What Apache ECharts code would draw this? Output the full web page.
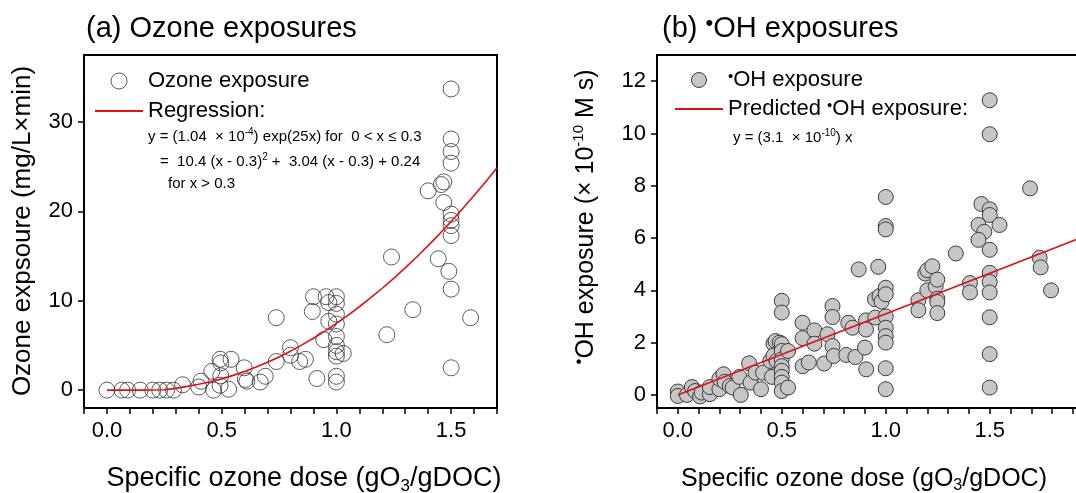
<!DOCTYPE html>
<html><head><meta charset="utf-8">
<script src="https://cdn.jsdelivr.net/npm/echarts@6/dist/echarts.min.js"></script>
<style>html,body{margin:0;padding:0;background:#fff}#c{width:1076px;height:493px}</style>
</head><body><div id="c"></div>
<script>
// ---- Panel (a): ozone exposure ----
const ozoneDose = [0.00,0.065,0.09,0.145,0.20,0.23,0.26,0.29,0.33,0.40,0.41,0.457,0.465,0.493,0.496,0.496,0.493,0.53,0.541,0.598,0.603,0.61,0.668,0.69,0.738,0.738,0.80,0.80,0.84,0.865,0.90,0.895,0.915,0.945,0.955,0.967,0.967,1.0,1.0,1.0,1.0,1.0,1.0,1.0,1.0,1.03,1.0,1.0,1.22,1.24,1.333,1.444,1.49,1.5,1.5,1.585,1.5,1.5,1.5,1.5,1.468,1.457,1.40,1.468,1.5,1.5,1.5,1.5];
const ozoneExposure = [0,0,0,0,0,0,0,0,0.6,0.35,1.0,2.1,0,3.45,3.05,1.6,0.55,0.1,3.45,2.5,1.2,1.0,0.9,1.55,8.1,3.2,4.75,3.9,3.2,3.45,10.45,8.8,1.3,5.65,10.45,9.8,7.7,10.45,9.7,8.5,7.4,6.0,5.0,4.3,3.8,4.1,1.55,0.9,6.2,14.9,9.0,14.7,13.3,11.3,2.5,8.1,33.7,28.1,26.7,25.4,23.3,23.0,22.3,21.0,19.7,19.0,18.4,17.3];
const regressionDose = [0,0.05,0.1,0.15,0.2,0.25,0.3,0.35,0.4,0.45,0.5,0.55,0.6,0.65,0.7,0.75,0.8,0.85,0.9,0.95,1.0,1.05,1.1,1.15,1.2,1.25,1.3,1.35,1.4,1.45,1.5,1.55,1.6,1.65,1.7];
const regressionExposure = [0,0,0,0.005,0.015,0.05,0.2,0.42,0.65,0.93,1.26,1.65,2.09,2.58,3.12,3.71,4.36,5.06,5.81,6.61,7.46,8.37,9.33,10.34,11.4,12.51,13.68,14.9,16.17,17.49,18.86,20.29,21.77,23.3,24.88];
const leftXTickLabels = [0,0.5,1.0,1.5];
const leftXTicks = [-0.1,0,0.1,0.2,0.3,0.4,0.5,0.6,0.7,0.8,0.9,1.0,1.1,1.2,1.3,1.4,1.5,1.6,1.7];
const leftYTickLabels = [0,10,20,30];

// ---- Panel (b): OH exposure ----
const ohDose = [0,0,0.044,0.068,0.083,0.107,0.115,0.154,0.154,0.2,0.2,0.22,0.225,0.25,0.264,0.296,0.303,0.343,0.35,0.374,0.4,0.41,0.445,0.453,0.46,0.47,0.46,0.475,0.49,0.5,0.5,0.5,0.5,0.5,0.5,0.5,0.5,0.5,0.5,0.53,0.53,0.6,0.6,0.6,0.63,0.657,0.657,0.704,0.72,0.744,0.744,0.744,0.75,0.81,0.82,0.84,0.854,0.87,0.905,0.905,0.9,0.906,0.948,0.964,0.97,0.98,1.0,1.0,0.95,1.0,1.0,1.0,1.0,1.0,1.0,1.0,1.0,1.0,1.157,1.157,1.19,1.2,1.224,1.2,1.24,1.248,1.248,1.248,1.248,1.337,1.405,1.405,1.5,1.5,1.5,1.5,1.5,1.5,1.5,1.5,1.5,1.694,1.46,1.5,1.5,1.547,1.446,1.474,1.446,1.74,1.745,1.795];
const ohExposure = [0.13,-0.04,0,0.3,0.15,-0.06,0.09,0.03,0.3,0.22,0.62,0.79,0.5,0.34,0.28,0.69,0,1.21,0.47,0.85,0.22,0.85,1.3,0.69,1.96,2.06,1.5,1.3,2.0,3.6,3.15,1.94,1.68,1.36,1.1,0.92,0.69,0.47,0.15,0.28,1.68,2.76,2.17,1.1,1.24,2.47,1.96,1.2,2.32,3.4,2.98,1.87,1.49,1.53,2.76,2.57,1.45,4.8,2.85,2.5,1.81,0.98,3.66,4.9,3.78,3.57,4.1,3.85,2.96,3.0,2.57,2.25,2.0,1.02,0.22,7.57,6.46,6.33,3.62,3.24,4.64,4.77,4.92,4.0,4.15,4.41,3.68,3.55,3.13,5.41,4.28,3.92,4.67,4.32,3.92,2.97,1.56,0.28,5.55,11.27,9.97,7.9,7.3,7.1,6.88,6.5,6.5,6.24,5.93,5.25,4.88,4.0];
const predictedDose = [0,2.0];
const predictedOH = [0,6.2];
const rightXTickLabels = [0,0.5,1.0,1.5];
const rightXTicks = [-0.1,0,0.1,0.2,0.3,0.4,0.5,0.6,0.7,0.8,0.9,1.0,1.1,1.2,1.3,1.4,1.5,1.6,1.7,1.8,1.9];
const rightYTickLabels = [0,2,4,6,8,10,12];

const FONT = 'Liberation Sans, Arial, sans-serif';
const zip = (a, b) => a.map((v, i) => [v, b[i]]);

function xAxis(gi, min, max, labels, ticks) {
  return {
    type: 'value', gridIndex: gi, min: min, max: max,
    axisLine: {show: true, onZero: false, lineStyle: {color: '#000', width: 2}},
    axisTick: {show: true, inside: false, length: 6, customValues: ticks, lineStyle: {color: '#000', width: 1.5}},
    axisLabel: {customValues: labels, formatter: v => Number(v).toFixed(1), fontSize: 22, fontFamily: FONT, color: '#000', margin: 12},
    splitLine: {show: false}
  };
}
function yAxis(gi, min, max, labels) {
  return {
    type: 'value', gridIndex: gi, min: min, max: max,
    axisLine: {show: true, onZero: false, lineStyle: {color: '#000', width: 2}},
    axisTick: {show: true, inside: false, length: 6, customValues: labels, lineStyle: {color: '#000', width: 1.5}},
    axisLabel: {customValues: labels, fontSize: 22, fontFamily: FONT, color: '#000', margin: 11},
    splitLine: {show: false}
  };
}

const RED = '#e31010';
const LINE_ICON = 'path://M0,0 L48,0 L48,1.8 L0,1.8 Z';
const chart = echarts.init(document.getElementById('c'));
chart.setOption({
  animation: false,
  backgroundColor: '#fff',
  grid: [
    {left: 84, top: 55, width: 413, height: 353, show: true, borderColor: '#000', borderWidth: 2},
    {left: 657, top: 55, width: 419, height: 353, show: false}
  ],
  xAxis: [
    xAxis(0, -0.1, 1.7, leftXTickLabels, leftXTicks),
    xAxis(1, -0.1, 1.915, rightXTickLabels, rightXTicks),
    {type: 'value', gridIndex: 1, position: 'top', min: -0.1, max: 1.915,
     axisLine: {show: true, onZero: false, lineStyle: {color: '#000', width: 2}},
     axisTick: {show: false}, axisLabel: {show: false}, splitLine: {show: false}}
  ],
  yAxis: [yAxis(0, -2, 37.5, leftYTickLabels), yAxis(1, -0.5, 13, rightYTickLabels)],
  legend: [
    {data: [{name: 'Ozone exposure', itemStyle: {color: 'rgba(255,255,255,0)', borderColor: '#333', borderWidth: 1}},
            {name: 'Regression:', icon: LINE_ICON, itemStyle: {color: RED}}],
     left: 95, top: 70, padding: 0, orient: 'vertical', itemWidth: 48, itemHeight: 16, itemGap: 8,
     selectedMode: false, textStyle: {fontSize: 22, fontFamily: FONT, color: '#000'}},
    {data: [{name: '•OH exposure', itemStyle: {color: '#c6c6c6', borderColor: '#3a3a3a', borderWidth: 1}},
            {name: 'Predicted •OH exposure:', icon: LINE_ICON, itemStyle: {color: RED}}],
     left: 675, top: 69, padding: 0, orient: 'vertical', itemWidth: 48, itemHeight: 15, itemGap: 7,
     selectedMode: false,
     formatter: n => n.replace('•', '{d|•}'),
     textStyle: {fontSize: 22, fontFamily: FONT, color: '#000', rich: {d: {fontSize: 15, fontFamily: FONT, color: '#000', verticalAlign: 'top', lineHeight: 12}}}}
  ],
  series: [
    {name: 'Ozone exposure', type: 'scatter', xAxisIndex: 0, yAxisIndex: 0, symbol: 'circle', symbolSize: 16,
     data: zip(ozoneDose, ozoneExposure),
     itemStyle: {color: 'rgba(255,255,255,0)', borderColor: '#333', borderWidth: 1}},
    {name: 'Regression:', type: 'line', xAxisIndex: 0, yAxisIndex: 0, symbol: 'none', smooth: false,
     data: zip(regressionDose, regressionExposure), lineStyle: {color: RED, width: 1.6}, itemStyle: {color: RED}},
    {name: '•OH exposure', type: 'scatter', xAxisIndex: 1, yAxisIndex: 1, symbol: 'circle', symbolSize: 15,
     data: zip(ohDose, ohExposure),
     itemStyle: {color: '#c6c6c6', borderColor: '#3a3a3a', borderWidth: 1, opacity: 1}},
    {name: 'Predicted •OH exposure:', type: 'line', xAxisIndex: 1, yAxisIndex: 1, symbol: 'none',
     data: zip(predictedDose, predictedOH), lineStyle: {color: RED, width: 1.6}, itemStyle: {color: RED}}
  ],
  graphic: [
    {type: 'text', x: 86, y: 29, style: {text: '(a) Ozone exposures', font: '29px ' + FONT, fill: '#000', verticalAlign: 'middle'}},
    {type: 'text', x: 662, y: 29, style: {text: '(b) {d|•}OH exposures', font: '29px ' + FONT, fill: '#000', verticalAlign: 'middle', lineHeight: 32,
      rich: {d: {fontSize: 22, fontFamily: FONT, fill: '#000', verticalAlign: 'top', lineHeight: 16}}}},
    {type: 'text', x: 304, y: 479, style: {text: 'Specific ozone dose (gO{s|3}/gDOC)', font: '27px ' + FONT, fill: '#000', align: 'center', verticalAlign: 'middle', lineHeight: 32,
      rich: {s: {fontSize: 17, fontFamily: FONT, fill: '#000', verticalAlign: 'bottom', lineHeight: 18}}}},
    {type: 'text', x: 864, y: 479, style: {text: 'Specific ozone dose (gO{s|3}/gDOC)', font: '25px ' + FONT, fill: '#000', align: 'center', verticalAlign: 'middle', lineHeight: 30,
      rich: {s: {fontSize: 16, fontFamily: FONT, fill: '#000', verticalAlign: 'bottom', lineHeight: 17}}}},
    {type: 'text', x: 23, y: 231, rotation: Math.PI / 2, style: {text: 'Ozone expsoure (mg/L×min)', font: '26px ' + FONT, fill: '#000', align: 'center', verticalAlign: 'middle'}},
    {type: 'text', x: 586, y: 217, rotation: Math.PI / 2, style: {text: '{d|•}OH exposure (× 10{u|-10} M s)', font: '25px ' + FONT, fill: '#000', align: 'center', verticalAlign: 'middle', lineHeight: 30,
      rich: {d: {fontSize: 17, fontFamily: FONT, fill: '#000', verticalAlign: 'top', lineHeight: 14},
             u: {fontSize: 15, fontFamily: FONT, fill: '#000', verticalAlign: 'top', lineHeight: 16}}}},
    {type: 'text', x: 148, y: 137, style: {text: 'y = (1.04  × 10{u|-4}) exp(25x) for  0 < x ≤ 0.3', font: '15px ' + FONT, fill: '#000', verticalAlign: 'middle', lineHeight: 20,
      rich: {u: {fontSize: 10, fontFamily: FONT, fill: '#000', verticalAlign: 'top', lineHeight: 12}}}},
    {type: 'text', x: 160, y: 162, style: {text: '=  10.4 (x - 0.3){u|2} +  3.04 (x - 0.3) + 0.24', font: '15px ' + FONT, fill: '#000', verticalAlign: 'middle', lineHeight: 20,
      rich: {u: {fontSize: 10, fontFamily: FONT, fill: '#000', verticalAlign: 'top', lineHeight: 12}}}},
    {type: 'text', x: 168, y: 184, style: {text: 'for x > 0.3', font: '15px ' + FONT, fill: '#000', verticalAlign: 'middle'}},
    {type: 'text', x: 733, y: 138, style: {text: 'y = (3.1  × 10{u|-10}) x', font: '15px ' + FONT, fill: '#000', verticalAlign: 'middle', lineHeight: 20,
      rich: {u: {fontSize: 10, fontFamily: FONT, fill: '#000', verticalAlign: 'top', lineHeight: 12}}}}
  ]
});
</script></body></html>
